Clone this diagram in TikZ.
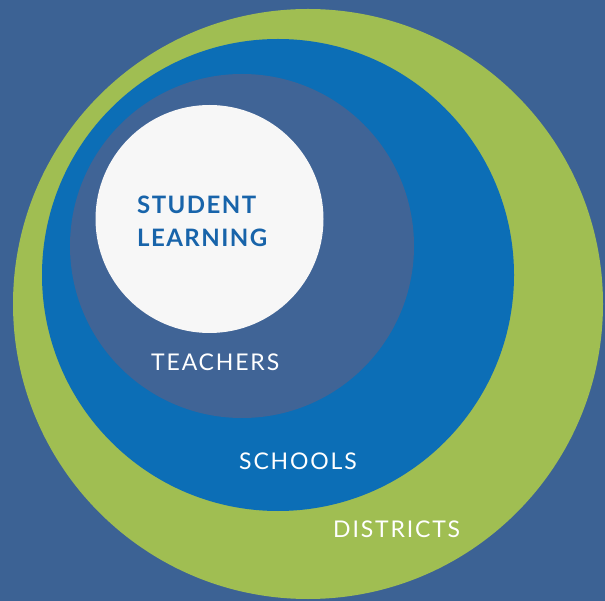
\documentclass[tikz,border=0pt]{standalone}
\usepackage{fontspec}
\setmainfont{Lato}
\begin{document}
\definecolor{bgblue}{RGB}{60,98,148}
\definecolor{ringgreen}{RGB}{160,190,82}
\definecolor{ringblue}{RGB}{12,110,182}
\definecolor{coreblue}{RGB}{64,100,150}
\definecolor{corewhite}{RGB}{247,247,247}
\definecolor{labelblue}{RGB}{24,100,170}
\begin{tikzpicture}[x=1pt,y=-1pt,
  disc/.style={circle,inner sep=0pt,minimum size=#1},
  outerlabel/.style={anchor=base west,inner sep=0pt,text=white,
    font=\fontsize{23}{23}\selectfont\addfontfeatures{LetterSpace=8}},
  corelabel/.style={anchor=base west,inner sep=0pt,text=labelblue,
    font=\fontsize{24}{24}\selectfont\bfseries\addfontfeatures{LetterSpace=6}}]
  \fill[bgblue] (0,0) rectangle (605,601);
  \useasboundingbox (0,0) rectangle (605,601);
  % nested circles, outermost first
  \node[disc=590pt,fill=ringgreen] (districts) at (308,304) {};
  \node[disc=472pt,fill=ringblue] (schools) at (278,275) {};
  \node[disc=344pt,fill=coreblue] (teachers) at (242,246) {};
  \node[disc=228pt,fill=corewhite] (student) at (209.5,219) {};
  % labels
  \node[corelabel] (l1) at (137,214) {STUDENT};
  \node[corelabel] (l2) at (137,247) {LEARNING};
  \node[outerlabel] (lt) at (151,371) {TEACHERS};
  \node[outerlabel] (ls) at (239,469) {SCHOOLS};
  \node[outerlabel] (ld) at (333,537) {DISTRICTS};
\end{tikzpicture}
\end{document}
